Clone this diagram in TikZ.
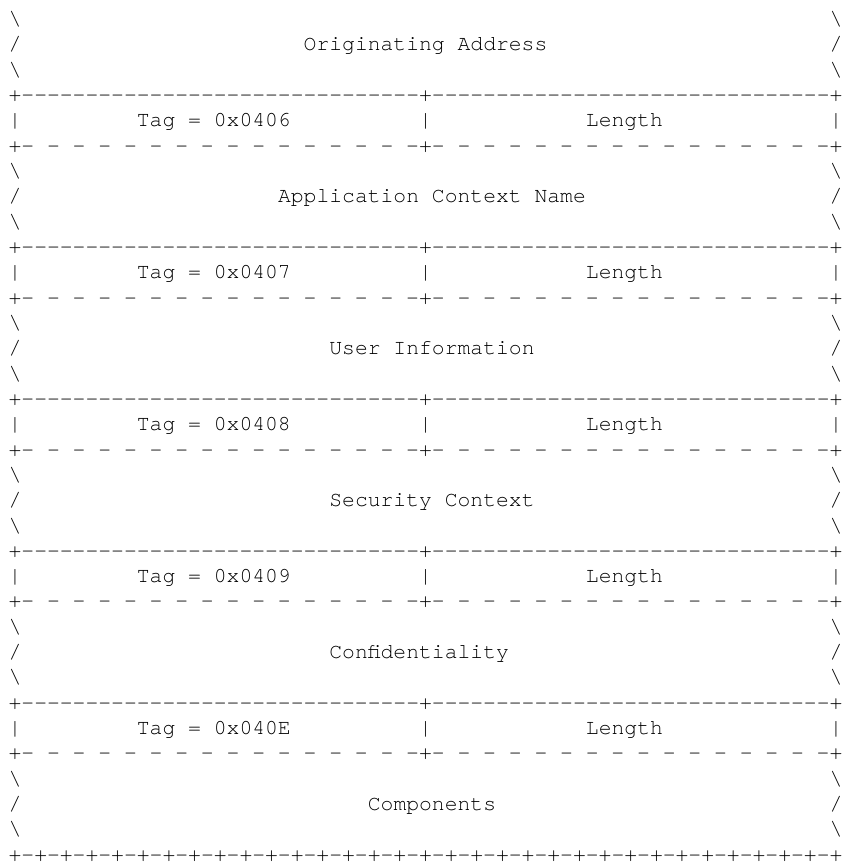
\documentclass[tikz,border=0pt]{standalone}
\usepackage{fontspec}
\setmonofont{TeX Gyre Cursor}
\newcommand\dashten{----------}
\newcommand\solidhalf{\dashten\dashten\dashten-}
\newcommand\dashedhalf{- - - - - - - -\ - - - - - - - -}
\newcommand\plusrun{+-+-+-+-}
\begin{document}
\begin{tikzpicture}[x=12.83pt,y=-25.33pt,
        chars/.style={anchor=base west,inner sep=0pt,outer sep=0pt,
            font=\ttfamily\fontsize{21.38pt}{25.33pt}\selectfont}]
        \useasboundingbox (-8.6pt,25.4pt) rectangle (832.4pt,-841.6pt);
        %% Originating Address (top field, no header row)
        \node[chars] (oa-a) at (0,0) {\textbackslash};
        \node[chars] (oa-b) at (64,0) {\textbackslash};
        \node[chars] (oa-c) at (0,1) {/};
        \node[chars] (oa-name) at (23,1) {Originating Address};
        \node[chars] (oa-d) at (64,1) {/};
        \node[chars] (oa-e) at (0,2) {\textbackslash};
        \node[chars] (oa-f) at (64,2) {\textbackslash};
        %% Tag/Length rows, each followed by its field
        \foreach \tag/\field/\col [count=\i] in {0406/Application Context Name/21,
            0407/User Information/25, 0408/Security Context/25,
            0409/Confidentiality/25, 040E/Components/28}{
            \pgfmathtruncatemacro{\row}{6*\i-3}
            \node[chars] (sep\i) at (0,\row) {+\solidhalf+\solidhalf+};
            \node[chars] (bar\i-l) at (0,\row+1) {|};
            \node[chars] (tag\i) at (10,\row+1) {Tag = 0x\tag};
            \node[chars] (bar\i-m) at (32,\row+1) {|};
            \node[chars] (len\i) at (45,\row+1) {Length};
            \node[chars] (bar\i-r) at (64,\row+1) {|};
            \node[chars] (dash\i) at (0,\row+2) {+\dashedhalf+\dashedhalf+};
            \node[chars] (f\i-a) at (0,\row+3) {\textbackslash};
            \node[chars] (f\i-b) at (64,\row+3) {\textbackslash};
            \node[chars] (f\i-c) at (0,\row+4) {/};
            \node[chars] (f\i-name) at (\col,\row+4) {\field};
            \node[chars] (f\i-d) at (64,\row+4) {/};
            \node[chars] (f\i-e) at (0,\row+5) {\textbackslash};
            \node[chars] (f\i-f) at (64,\row+5) {\textbackslash};
        }
        %% Closing row
        \node[chars] (foot) at (0,33) {\plusrun\plusrun\plusrun\plusrun\plusrun\plusrun\plusrun\plusrun+};
\end{tikzpicture}
\end{document}
